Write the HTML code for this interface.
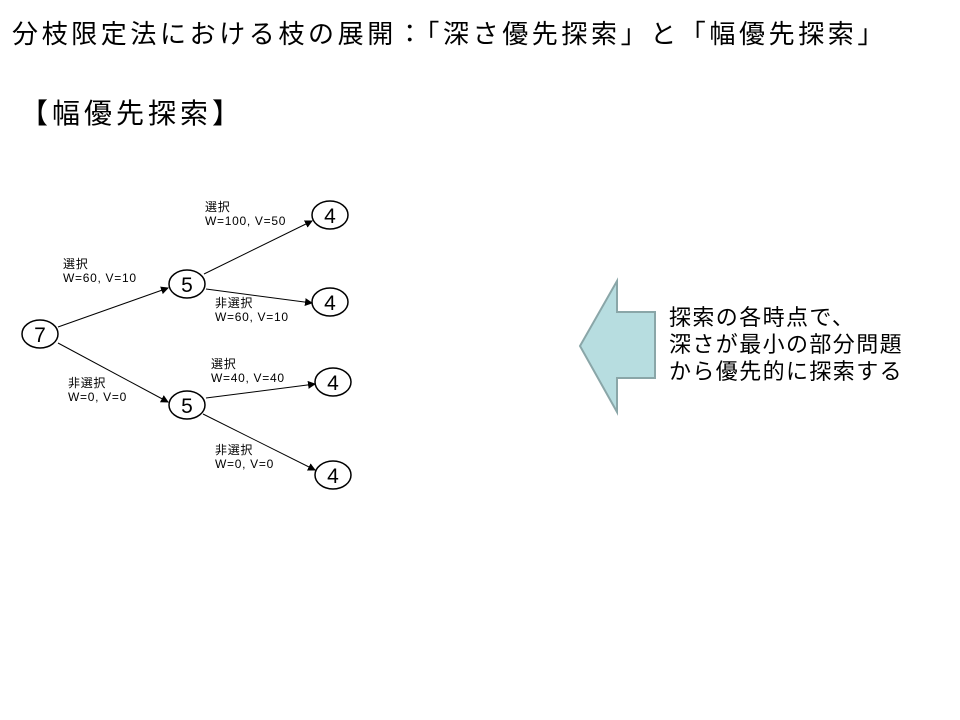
<!DOCTYPE html>
<html><head><meta charset="utf-8"><style>
body{margin:0;width:960px;height:720px;background:#fff;overflow:hidden;position:relative;font-family:"Liberation Sans","Noto Sans CJK JP",sans-serif;}
.t{position:absolute;white-space:nowrap;color:#000;}
.l{font-size:12px;line-height:14px;letter-spacing:0.7px;}
</style></head><body>
<div class="t" style="left:12px;top:14px;font-size:26px;letter-spacing:3.6px;">分枝限定法における枝の展開：「深さ優先探索」と「幅優先探索」</div>
<div class="t" style="left:20px;top:92px;font-size:28px;letter-spacing:4px;">【幅優先探索】</div>
<svg width="960" height="720" style="position:absolute;left:0;top:0">
<defs><marker id="a" markerWidth="8" markerHeight="8" refX="7" refY="4" orient="auto" markerUnits="userSpaceOnUse"><path d="M0,0 L8,4 L0,8z" fill="#000"/></marker></defs>
<g stroke="#000" stroke-width="1" fill="none">
<line x1="58" y1="327" x2="168" y2="288" marker-end="url(#a)"/>
<line x1="58" y1="343" x2="168" y2="402" marker-end="url(#a)"/>
<line x1="204" y1="274" x2="312" y2="221" marker-end="url(#a)"/>
<line x1="206" y1="289" x2="312" y2="303" marker-end="url(#a)"/>
<line x1="206" y1="398" x2="315" y2="384" marker-end="url(#a)"/>
<line x1="203" y1="414" x2="315" y2="470" marker-end="url(#a)"/>
</g>
<g stroke="#000" stroke-width="1.5" fill="#fff">
<ellipse cx="40" cy="334" rx="18" ry="14"/>
<ellipse cx="187" cy="284" rx="18" ry="14"/>
<ellipse cx="187" cy="405" rx="18" ry="14"/>
<ellipse cx="330" cy="215" rx="18" ry="14"/>
<ellipse cx="330" cy="302" rx="18" ry="14"/>
<ellipse cx="333" cy="382" rx="18" ry="14"/>
<ellipse cx="333" cy="475" rx="18" ry="14"/>
</g>
<g font-family="Liberation Sans" font-size="21" text-anchor="middle">
<text x="40" y="342">7</text><text x="187" y="292">5</text><text x="187" y="413">5</text>
<text x="330" y="223">4</text><text x="330" y="310">4</text><text x="333" y="390">4</text><text x="333" y="483">4</text>
</g>
<polygon points="580,346 617,281 617,312 655,312 655,378 617,378 617,412" fill="#b7dde0" stroke="#8aa6a8" stroke-width="2"/>
</svg>
<div class="t l" style="left:63px;top:257px;">選択<br>W=60, V=10</div>
<div class="t l" style="left:68px;top:376px;">非選択<br>W=0, V=0</div>
<div class="t l" style="left:205px;top:200px;">選択<br>W=100, V=50</div>
<div class="t l" style="left:215px;top:296px;">非選択<br>W=60, V=10</div>
<div class="t l" style="left:211px;top:357px;">選択<br>W=40, V=40</div>
<div class="t l" style="left:215px;top:443px;">非選択<br>W=0, V=0</div>
<div class="t" style="left:669px;top:304px;font-size:22px;line-height:27px;letter-spacing:1.4px;">探索の各時点で、<br>深さが最小の部分問題<br>から優先的に探索する</div>
</body></html>
